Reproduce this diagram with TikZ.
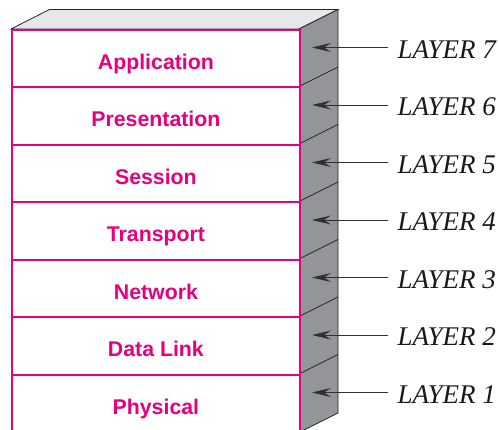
\documentclass[tikz,border=0pt]{standalone}
\usepackage{fontspec}
\setmainfont{Liberation Serif}
\newfontfamily\lsans{Liberation Sans}
\usetikzlibrary{arrows.meta}
\definecolor{osipink}{HTML}{E6007E}
\definecolor{topgray}{HTML}{E6E7E8}
\definecolor{sidegray}{HTML}{939598}
\definecolor{arrowgray}{HTML}{303030}
\tikzset{
  layerbox/.style={draw=osipink, line width=1.8pt, fill=white, anchor=north west,
    minimum width=288pt, inner xsep=0pt, inner ysep=0pt,
    text height=39.5pt, text depth=18pt,
    font=\lsans\bfseries\fontsize{21.3}{24}\selectfont, text=osipink},
  facedraw/.style={draw=black!85, line width=0.8pt},
  layerlabel/.style={anchor=base west, inner sep=0pt,
    font=\itshape\fontsize{27}{32}\selectfont, text=black!90},
  layerarrow/.style={draw=arrowgray, line width=0.9pt,
    -{Stealth[length=19pt,width=9pt,inset=7pt]}}
}
\begin{document}
\begin{tikzpicture}[x=1pt,y=-1pt]
\useasboundingbox (0,0) rectangle (499,430);
\clip (0,0) rectangle (499,430);
% top face
\filldraw[fill=topgray, facedraw] (11,29) -- (49.5,9.5) -- (338,9.5) -- (299,29) -- cycle;
% side face
\filldraw[fill=sidegray, facedraw] (299,29) -- (338,9.5) -- (338,413) -- (299,432.5) -- cycle;
% side face dividers
\foreach \k in {1,...,6} {
  \draw[facedraw] (299,{29+57.5*\k}) -- (338,{9.5+57.5*\k});
}
% layer boxes
\node[layerbox] (L7) at (11,29)    {Application};
\node[layerbox] (L6) at (11,86.5)  {Presentation};
\node[layerbox] (L5) at (11,144)   {Session};
\node[layerbox] (L4) at (11,201.5) {Transport};
\node[layerbox] (L3) at (11,259)   {Network};
\node[layerbox] (L2) at (11,316.5) {Data Link};
\node[layerbox] (L1) at (11,374)   {Physical};
% arrow targets and labels
\foreach \k/\n in {7/0,6/1,5/2,4/3,3/4,2/5,1/6} {
  \coordinate (T\k) at (312,{47.5+57.5*\n});
  \node[layerlabel] (N\k) at (397.5,{58.5+57.5*\n}) {LAYER \k};
  \coordinate (S\k) at (388,{47.5+57.5*\n});
  \draw[layerarrow] (S\k) -- (T\k);
}
\end{tikzpicture}
\end{document}
